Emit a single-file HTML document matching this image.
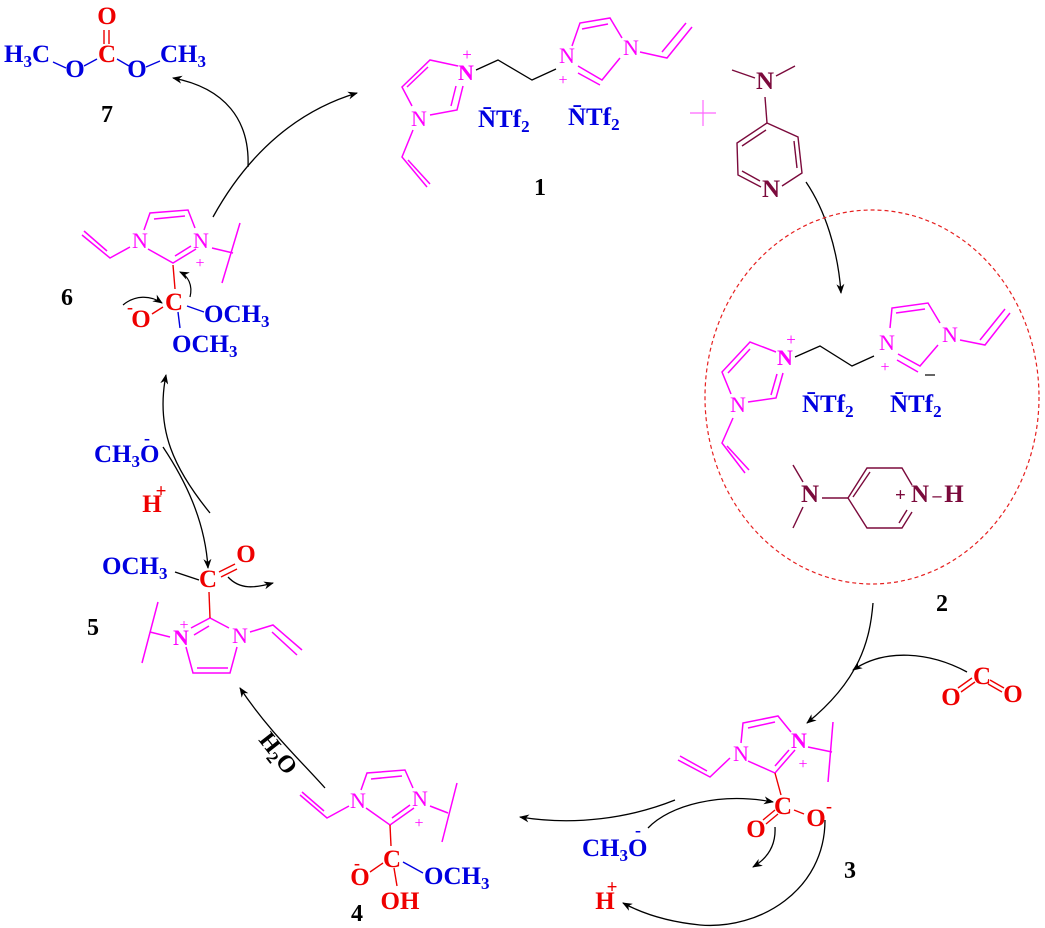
<!DOCTYPE html>
<html><head><meta charset="utf-8"><style>
html,body{margin:0;padding:0;background:#fff;}
svg{display:block;}
text{font-family:"Liberation Serif",serif;}
.m{fill:#ff00ff;font-size:22px;}
.b{fill:#0000e0;font-size:25px;font-weight:bold;}
.r{fill:#ee0000;font-size:25px;font-weight:bold;}
.k{fill:#000;font-size:24px;font-weight:bold;}
.d{fill:#7b0a3c;font-size:25px;font-weight:bold;}
.s{font-size:17px;}
</style></head><body>
<svg width="1045" height="928" viewBox="0 0 1045 928" xmlns="http://www.w3.org/2000/svg">
<defs>
<marker id="ah" markerWidth="10" markerHeight="8" refX="9" refY="4" orient="auto" markerUnits="userSpaceOnUse">
<path d="M0,0 L10,4 L0,8 L3,4 Z" fill="#000"/></marker>
</defs>

<!-- ===== 7 ===== -->
<g stroke-width="1.4">
<line x1="53" y1="62" x2="66" y2="68" stroke="#0000e0"/>
<line x1="84" y1="66" x2="97" y2="59" stroke="#0000e0"/>
<line x1="117" y1="59" x2="129" y2="66" stroke="#0000e0"/>
<line x1="146" y1="67" x2="160" y2="61" stroke="#0000e0"/>
<line x1="104" y1="30" x2="104" y2="44" stroke="#ee0000"/>
<line x1="109" y1="30" x2="109" y2="44" stroke="#ee0000"/>
</g>
<text class="b" x="4" y="62">H<tspan class="s" dy="5">3</tspan><tspan dy="-5">C</tspan></text>
<text class="b" x="75" y="77" text-anchor="middle">O</text>
<text class="r" x="107" y="62" text-anchor="middle">C</text>
<text class="r" x="107" y="24" text-anchor="middle">O</text>
<text class="b" x="137" y="77" text-anchor="middle">O</text>
<text class="b" x="160" y="62">CH<tspan class="s" dy="5">3</tspan></text>
<text class="k" x="107" y="122" text-anchor="middle">7</text>

<path d="M248,167 C250,120 225,88 173,78" fill="none" stroke="#000" stroke-width="1.3" marker-end="url(#ah)"/>
<path d="M213,217 C250,150 300,110 357,93" fill="none" stroke="#000" stroke-width="1.3" marker-end="url(#ah)"/>

<!-- ===== 1 ===== -->
<g stroke="#ff00ff" stroke-width="1.5" fill="none">
<polyline points="458,66 430,60 402,87 412,106"/>
<line x1="428" y1="67" x2="407" y2="87"/>
<polyline points="430,115 457,110 463,86"/>
<line x1="451" y1="106" x2="456" y2="86"/>
<polyline points="413,130 402,157 427,187"/>
<line x1="408" y1="160" x2="430" y2="184"/>
<polyline points="572,46 580,23 610,18 622,38"/>
<line x1="582" y1="29" x2="608" y2="24"/>
<polyline points="578,66 602,80 620,58"/>
<line x1="578" y1="73" x2="600" y2="85"/>
<polyline points="640,52 667,58 692,27"/>
<line x1="662" y1="52" x2="686" y2="23"/>
</g>
<polyline points="476,70 498,60 532,80 556,69" fill="none" stroke="#000" stroke-width="1.3"/>
<text class="m" x="466" y="80" text-anchor="middle" font-weight="bold">N</text>
<text class="m" x="467" y="60" text-anchor="middle" style="font-size:17px">+</text>
<text class="m" x="419" y="126" text-anchor="middle">N</text>
<text class="m" x="567" y="63" text-anchor="middle">N</text>
<text class="m" x="563" y="85" text-anchor="middle" style="font-size:16px">+</text>
<text class="m" x="631" y="55" text-anchor="middle">N</text>
<text class="b" x="478" y="127">N̄Tf<tspan class="s" dy="5">2</tspan></text>
<text class="b" x="568" y="125">N̄Tf<tspan class="s" dy="5">2</tspan></text>
<text class="k" x="540" y="195" text-anchor="middle">1</text>

<line x1="690" y1="113" x2="716" y2="113" stroke="#ff66ff" stroke-width="1.2"/>
<line x1="703" y1="100" x2="703" y2="126" stroke="#ff66ff" stroke-width="1.2"/>

<!-- DMAP -->
<g stroke="#7b0a3c" stroke-width="1.4" fill="none">
<line x1="732" y1="70" x2="755" y2="78"/>
<line x1="776" y1="76" x2="795" y2="66"/>
<line x1="765" y1="97" x2="767" y2="123"/>
<polyline points="767,123 737,143 738,175 761,187"/>
<line x1="766" y1="130" x2="742" y2="146"/>
<line x1="742" y1="171" x2="760" y2="181"/>
<polyline points="782,186 802,173 798,137 767,123"/>
<line x1="794" y1="141" x2="797" y2="168"/>
</g>
<text class="d" x="765" y="89" text-anchor="middle">N</text>
<text class="d" x="771" y="197" text-anchor="middle">N</text>

<path d="M806,182 C825,210 838,250 841,293" fill="none" stroke="#000" stroke-width="1.3" marker-end="url(#ah)"/>

<!-- ===== 2 ===== -->
<ellipse cx="872" cy="397" rx="167" ry="187" fill="none" stroke="#e62020" stroke-width="1.2" stroke-dasharray="4,3"/>
<g stroke="#ff00ff" stroke-width="1.5" fill="none">
<polyline points="776,352 750,342 722,372 731,394"/>
<line x1="750" y1="349" x2="728" y2="373"/>
<polyline points="748,402 776,398 783,373"/>
<line x1="771" y1="395" x2="777" y2="374"/>
<polyline points="733,418 722,443 745,473"/>
<line x1="727" y1="446" x2="749" y2="470"/>
<polyline points="890,328 892,308 928,303 940,323"/>
<line x1="896" y1="313" x2="925" y2="309"/>
<polyline points="898,354 920,366 938,345"/>
<line x1="897" y1="360" x2="918" y2="372"/>
<polyline points="960,340 985,345 1010,313"/>
<line x1="980" y1="340" x2="1005" y2="309"/>
</g>
<polyline points="795,357 820,346 852,366 874,356" fill="none" stroke="#000" stroke-width="1.3"/>
<text class="m" x="785" y="365" text-anchor="middle" font-weight="bold">N</text>
<text class="m" x="791" y="345" text-anchor="middle" style="font-size:17px">+</text>
<text class="m" x="738" y="412" text-anchor="middle">N</text>
<text class="m" x="887" y="350" text-anchor="middle">N</text>
<text class="m" x="885" y="372" text-anchor="middle" style="font-size:16px">+</text>
<text class="m" x="950" y="342" text-anchor="middle">N</text>
<text class="b" x="802" y="412">N̄Tf<tspan class="s" dy="5">2</tspan></text>
<text class="b" x="890" y="412">N̄Tf<tspan class="s" dy="5">2</tspan></text>
<line x1="925" y1="375" x2="935" y2="375" stroke="#000" stroke-width="1.2"/>
<g stroke="#7b0a3c" stroke-width="1.4" fill="none">
<line x1="793" y1="465" x2="803" y2="482"/>
<line x1="803" y1="507" x2="793" y2="528"/>
<line x1="822" y1="498" x2="848" y2="498"/>
<polyline points="848,498 867,468 902,468 912,485"/>
<line x1="853" y1="497" x2="870" y2="472"/>
<polyline points="912,512 902,528 867,528 848,498"/>
<line x1="907" y1="510" x2="899" y2="523"/>
</g>
<text class="d" x="810" y="502" text-anchor="middle">N</text>
<text class="d" x="895" y="501" style="font-size:19px">+</text>
<text class="d" x="920" y="502" text-anchor="middle">N</text>
<text class="d" x="937" y="501" text-anchor="middle" style="font-size:18px">–</text>
<text class="d" x="954" y="502" text-anchor="middle">H</text>
<text class="k" x="942" y="611" text-anchor="middle">2</text>

<path d="M873,603 C870,640 860,680 807,723" fill="none" stroke="#000" stroke-width="1.3" marker-end="url(#ah)"/>
<path d="M967,672 C930,652 885,648 853,670" fill="none" stroke="#000" stroke-width="1.3" marker-end="url(#ah)"/>
<g stroke="#ee0000" stroke-width="1.4">
<line x1="958" y1="688" x2="972" y2="678"/><line x1="961" y1="692" x2="975" y2="682"/>
<line x1="990" y1="680" x2="1004" y2="688"/><line x1="988" y1="684" x2="1002" y2="692"/>
</g>
<text class="r" x="982" y="684" text-anchor="middle">C</text>
<text class="r" x="951" y="705" text-anchor="middle">O</text>
<text class="r" x="1013" y="702" text-anchor="middle">O</text>

<!-- ===== 3 ===== -->
<g stroke="#ff00ff" stroke-width="1.5" fill="none">
<polyline points="741,743 743,723 778,716 791,732"/>
<line x1="748" y1="728" x2="775" y2="722"/>
<polyline points="748,761 775,773 795,750"/>
<line x1="775" y1="766" x2="789" y2="750"/>
<polyline points="730,758 710,777 678,760"/>
<line x1="707" y1="771" x2="680" y2="756"/>
<line x1="808" y1="747" x2="832" y2="752"/>
<line x1="833" y1="722" x2="828" y2="782"/>
</g>
<line x1="775" y1="773" x2="781" y2="795" stroke="#ee0000" stroke-width="1.4"/>
<text class="m" x="741" y="761" text-anchor="middle">N</text>
<text class="m" x="799" y="748" text-anchor="middle" font-weight="bold">N</text>
<text class="m" x="803" y="769" text-anchor="middle" style="font-size:16px">+</text>
<g stroke="#ee0000" stroke-width="1.4">
<line x1="794" y1="810" x2="804" y2="814"/>
<line x1="763" y1="820" x2="775" y2="810"/><line x1="766" y1="824" x2="778" y2="814"/>
</g>
<text class="r" x="783" y="814" text-anchor="middle">C</text>
<text class="r" x="816" y="826" text-anchor="middle">O</text>
<text class="r" x="829" y="812" text-anchor="middle" style="font-size:18px">-</text>
<text class="r" x="756" y="837" text-anchor="middle">O</text>
<text class="k" x="850" y="878" text-anchor="middle">3</text>
<text class="b" x="582" y="856">CH<tspan class="s" dy="5">3</tspan><tspan dy="-5">O</tspan></text>
<text class="b" x="638" y="836" text-anchor="middle" style="font-size:18px">-</text>
<text class="r" x="605" y="909" text-anchor="middle">H</text>
<text class="r" x="612" y="893" text-anchor="middle" style="font-size:19px">+</text>
<path d="M675,800 C630,818 575,826 520,817" fill="none" stroke="#000" stroke-width="1.3" marker-end="url(#ah)"/>
<path d="M648,828 C670,805 720,792 773,802" fill="none" stroke="#000" stroke-width="1.3" marker-end="url(#ah)"/>
<path d="M775,827 C776,845 768,858 753,867" fill="none" stroke="#000" stroke-width="1.3" marker-end="url(#ah)"/>
<path d="M825,820 C825,890 760,930 700,925 C670,922 645,915 623,903" fill="none" stroke="#000" stroke-width="1.3" marker-end="url(#ah)"/>

<!-- ===== 4 ===== -->
<g stroke="#ff00ff" stroke-width="1.5" fill="none">
<polyline points="361,790 367,773 405,770 413,788"/>
<line x1="371" y1="779" x2="402" y2="776"/>
<polyline points="366,808 390,825 414,808"/>
<line x1="392" y1="818" x2="410" y2="805"/>
<polyline points="349,806 327,818 300,795"/>
<line x1="324" y1="811" x2="302" y2="792"/>
<line x1="430" y1="806" x2="448" y2="813"/>
<line x1="457" y1="783" x2="442" y2="842"/>
</g>
<text class="m" x="358" y="808" text-anchor="middle">N</text>
<text class="m" x="420" y="806" text-anchor="middle">N</text>
<text class="m" x="419" y="828" text-anchor="middle" style="font-size:16px">+</text>
<line x1="390" y1="825" x2="391" y2="846" stroke="#ee0000" stroke-width="1.4"/>
<g stroke-width="1.4">
<line x1="370" y1="872" x2="383" y2="863" stroke="#ee0000"/>
<line x1="403" y1="862" x2="423" y2="873" stroke="#0000e0"/>
<line x1="394" y1="868" x2="397" y2="886" stroke="#ee0000"/>
</g>
<text class="r" x="392" y="867" text-anchor="middle">C</text>
<text class="r" x="360" y="885" text-anchor="middle">O</text>
<text class="r" x="357" y="869" text-anchor="middle" style="font-size:18px">-</text>
<text class="b" x="424" y="884">OCH<tspan class="s" dy="5">3</tspan></text>
<text class="r" x="400" y="909" text-anchor="middle">OH</text>
<text class="k" x="357" y="921" text-anchor="middle">4</text>
<path d="M325,788 C300,760 268,730 240,688" fill="none" stroke="#000" stroke-width="1.3" marker-end="url(#ah)"/>
<text class="k" x="0" y="0" style="font-size:24px" transform="translate(258,740) rotate(52)">H<tspan class="s" dy="5">2</tspan><tspan dy="-5">O</tspan></text>

<!-- ===== 5 ===== -->
<g stroke="#ff00ff" stroke-width="1.5" fill="none">
<polyline points="186,647 193,673 230,673 237,647"/>
<line x1="197" y1="668" x2="228" y2="668"/>
<polyline points="191,628 210,618 229,628"/>
<line x1="194" y1="635" x2="209" y2="626"/>
<polyline points="250,632 273,625 302,650"/>
<line x1="272" y1="632" x2="297" y2="655"/>
<line x1="150" y1="632" x2="170" y2="637"/>
<line x1="158" y1="602" x2="142" y2="663"/>
</g>
<text class="m" x="181" y="645" text-anchor="middle" font-weight="bold">N</text>
<text class="m" x="184" y="630" text-anchor="middle" style="font-size:16px">+</text>
<text class="m" x="240" y="643" text-anchor="middle">N</text>
<line x1="210" y1="618" x2="209" y2="592" stroke="#ee0000" stroke-width="1.4"/>
<g stroke-width="1.4">
<line x1="175" y1="572" x2="199" y2="580" stroke="#000"/>
<line x1="219" y1="572" x2="235" y2="564" stroke="#ee0000"/>
<line x1="221" y1="577" x2="237" y2="569" stroke="#ee0000"/>
</g>
<text class="r" x="208" y="587" text-anchor="middle">C</text>
<text class="r" x="246" y="562" text-anchor="middle">O</text>
<text class="b" x="102" y="574">OCH<tspan class="s" dy="5">3</tspan></text>
<text class="k" x="93" y="635" text-anchor="middle">5</text>
<path d="M228,577 C240,590 255,588 273,583" fill="none" stroke="#000" stroke-width="1.3" marker-end="url(#ah)"/>
<text class="b" x="94" y="462">CH<tspan class="s" dy="5">3</tspan><tspan dy="-5">O</tspan></text>
<text class="b" x="147" y="444" text-anchor="middle" style="font-size:18px">-</text>
<text class="r" x="152" y="512" text-anchor="middle">H</text>
<text class="r" x="161" y="497" text-anchor="middle" style="font-size:19px">+</text>
<path d="M210,513 C175,470 155,430 166,375" fill="none" stroke="#000" stroke-width="1.3" marker-end="url(#ah)"/>
<path d="M163,447 C185,480 205,520 208,568" fill="none" stroke="#000" stroke-width="1.3" marker-end="url(#ah)"/>

<!-- ===== 6 ===== -->
<g stroke="#ff00ff" stroke-width="1.5" fill="none">
<polyline points="144,230 150,213 188,210 195,228"/>
<line x1="154" y1="219" x2="185" y2="216"/>
<polyline points="148,249 173,263 196,249"/>
<line x1="175" y1="256" x2="191" y2="246"/>
<polyline points="130,247 110,258 82,235"/>
<line x1="107" y1="251" x2="84" y2="231"/>
<line x1="212" y1="248" x2="233" y2="253"/>
<line x1="240" y1="223" x2="222" y2="283"/>
</g>
<text class="m" x="140" y="248" text-anchor="middle">N</text>
<text class="m" x="201" y="248" text-anchor="middle">N</text>
<text class="m" x="200" y="268" text-anchor="middle" style="font-size:16px">+</text>
<line x1="173" y1="265" x2="175" y2="289" stroke="#ee0000" stroke-width="1.4"/>
<g stroke-width="1.4">
<line x1="152" y1="314" x2="163" y2="307" stroke="#ee0000"/>
<line x1="187" y1="306" x2="204" y2="312" stroke="#0000e0"/>
<line x1="178" y1="312" x2="180" y2="328" stroke="#0000e0"/>
</g>
<text class="r" x="174" y="310" text-anchor="middle">C</text>
<text class="r" x="141" y="327" text-anchor="middle">O</text>
<text class="r" x="130" y="313" text-anchor="middle" style="font-size:18px">-</text>
<text class="b" x="204" y="322">OCH<tspan class="s" dy="5">3</tspan></text>
<text class="b" x="172" y="352">OCH<tspan class="s" dy="5">3</tspan></text>
<text class="k" x="67" y="305" text-anchor="middle">6</text>
<path d="M123,305 C135,295 150,295 162,303" fill="none" stroke="#000" stroke-width="1.2" marker-end="url(#ah)"/>
<path d="M190,297 C193,285 188,276 180,272" fill="none" stroke="#000" stroke-width="1.2" marker-end="url(#ah)"/>
</svg>
</body></html>
